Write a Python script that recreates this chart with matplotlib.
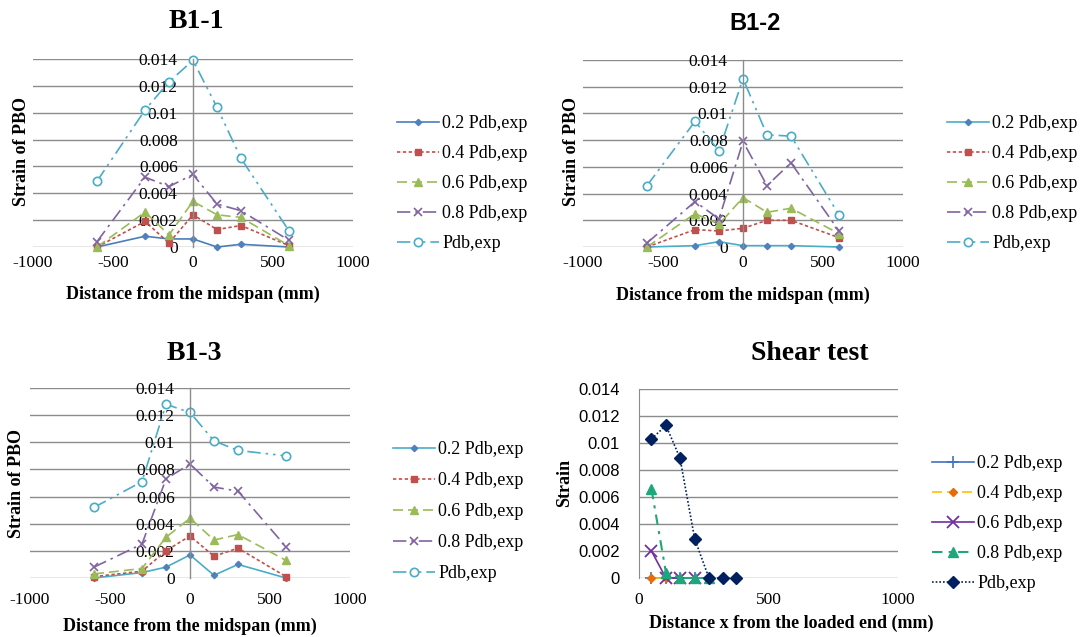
import matplotlib
matplotlib.use("Agg")
import matplotlib.pyplot as plt

# ---------------- data ----------------
x_beam = [-600, -300, -150, 0, 150, 300, 600]
series_labels = ["0.2 Pdb,exp", "0.4 Pdb,exp", "0.6 Pdb,exp", "0.8 Pdb,exp", "Pdb,exp"]

b11_02 = [0.0000, 0.0008, 0.0006, 0.0006, 0.0000, 0.0002, 0.0000]
b11_04 = [0.0000, 0.0019, 0.0003, 0.0024, 0.0013, 0.0016, 0.0001]
b11_06 = [0.0000, 0.0026, 0.0009, 0.0034, 0.0024, 0.0022, 0.0001]
b11_08 = [0.0004, 0.0052, 0.0045, 0.0054, 0.0032, 0.0027, 0.0005]
b11_10 = [0.0049, 0.0102, 0.0123, 0.0139, 0.0104, 0.0066, 0.0012]

b12_02 = [0.0000, 0.0001, 0.0004, 0.0001, 0.0001, 0.0001, 0.0000]
b12_04 = [0.0000, 0.0013, 0.0012, 0.0014, 0.0020, 0.0020, 0.0007]
b12_06 = [0.0000, 0.0025, 0.0017, 0.0037, 0.0026, 0.0029, 0.0010]
b12_08 = [0.0003, 0.0034, 0.0021, 0.0079, 0.0046, 0.0063, 0.0012]
b12_10 = [0.0046, 0.0094, 0.0072, 0.0126, 0.0084, 0.0083, 0.0024]

b13_02 = [0.0000, 0.0004, 0.0008, 0.0017, 0.0002, 0.0010, 0.0000]
b13_04 = [0.0001, 0.0005, 0.0020, 0.0031, 0.0016, 0.0022, 0.0001]
b13_06 = [0.0003, 0.0007, 0.0030, 0.0044, 0.0028, 0.0032, 0.0013]
b13_08 = [0.0008, 0.0025, 0.0073, 0.0084, 0.0067, 0.0064, 0.0023]
b13_10 = [0.0052, 0.0071, 0.0128, 0.0122, 0.0101, 0.0094, 0.0090]

x_shear = [48, 104, 158, 215, 270, 324, 376]
s_02 = [0.0, 0.0, 0.0, 0.0]
s_04 = [0.0, 0.0]
s_06 = [0.0020, 0.0, 0.0, 0.0]
s_08 = [0.0066, 0.0004, 0.0, 0.0, 0.0]
s_10 = [0.0103, 0.0113, 0.0089, 0.0029, 0.0, 0.0, 0.0]

y_ticks = [0, 0.002, 0.004, 0.006, 0.008, 0.01, 0.012, 0.014]
y_ticklabels = ["0", "0.002", "0.004", "0.006", "0.008", "0.01", "0.012", "0.014"]
xb_ticks = [-1000, -500, 0, 500, 1000]
xs_ticks = [0, 500, 1000]

# ---------------- layout ----------------
W, H = 1083, 637
fig = plt.figure(figsize=(W / 100, H / 100), dpi=100)
SERIF = "Liberation Serif"
SANS = "Liberation Sans"
GRID = "#8c8c8c"


def fx(px):
    return px / W


def fy(py):
    return 1 - py / H


def make_ax(left, right, top, bottom):
    return fig.add_axes([fx(left), fy(bottom), fx(right - left), (bottom - top) / H])


beam_styles = [
    dict(ls="-", marker="D", ms=3.2, lw=1.2),
    dict(ls=(0, (2, 1.5)), marker="s", ms=5, lw=1.2),
    dict(ls=(0, (6, 3)), marker="^", ms=5.5, lw=1.2),
    dict(ls=(0, (8, 3, 1.5, 3)), marker="x", ms=6, lw=1.2, mew=1.2),
    dict(ls=(0, (8, 3, 1.5, 3, 1.5, 3)), marker="o", ms=6, lw=1.2, mfc="white", mew=1.2),
]


def beam_panel(ax, data, line02, xpad):
    colors = [line02, "#C0504D", "#9BBB59", "#8064A2", "#4BACC6"]
    mcols = ["#4F81BD", "#C0504D", "#9BBB59", "#8064A2", "#4BACC6"]
    for s in ["top", "right", "bottom"]:
        ax.spines[s].set_visible(False)
    ax.spines["left"].set_position(("data", 0))
    ax.spines["left"].set_color(GRID)
    ax.spines["left"].set_linewidth(1)
    for y, lab, st, c, mc in zip(data, series_labels, beam_styles, colors, mcols):
        kw = dict(st)
        ax.plot(x_beam, y, color=c, mec=mc, label=lab, clip_on=False,
                **({"mfc": mc} if "mfc" not in kw else {}), **kw)
    ax.set_xlim(-1000, 1000)
    ax.set_ylim(0, 0.014)
    ax.set_yticks(y_ticks, y_ticklabels)
    ax.set_xticks(xb_ticks, [str(v) for v in xb_ticks])
    ax.tick_params(axis="y", length=0, pad=11, labelsize=12.5, labelfontfamily=SERIF)
    ax.tick_params(axis="x", length=0, pad=xpad, labelsize=12.5, labelfontfamily=SERIF)
    ax.yaxis.grid(True, color=GRID, lw=1)
    ax.set_axisbelow(True)


def legend(ax, x, top, spacing=0.72):
    ax.legend(loc="upper left", bbox_to_anchor=(fx(x), fy(top)), bbox_transform=fig.transFigure,
              frameon=False, prop={"family": SERIF, "size": 13}, handlelength=2.3,
              handletextpad=0.2, labelspacing=spacing, borderpad=0, borderaxespad=0)


# B1-1
ax1 = make_ax(33, 353, 59, 247)
beam_panel(ax1, [b11_02, b11_04, b11_06, b11_08, b11_10], "#4A7EBB", 6)
legend(ax1, 397, 115)
fig.text(fx(196), fy(21), "B1-1", ha="center", va="center", fontfamily=SERIF,
         fontweight="bold", fontsize=20)
fig.text(fx(22), fy(152), "Strain of PBO", rotation=90, ha="center", va="center",
         fontfamily=SERIF, fontweight="bold", fontsize=13)
fig.text(fx(193), fy(294), "Distance from the midspan (mm)", ha="center", va="center",
         fontfamily=SERIF, fontweight="bold", fontsize=13)

# B1-2
ax2 = make_ax(583, 903, 60, 247)
beam_panel(ax2, [b12_02, b12_04, b12_06, b12_08, b12_10], "#4BACC6", 6)
legend(ax2, 947, 115)
fig.text(fx(755), fy(24), "B1-2", ha="center", va="center", fontfamily=SANS,
         fontweight="bold", fontsize=17)
fig.text(fx(572), fy(152), "Strain of PBO", rotation=90, ha="center", va="center",
         fontfamily=SERIF, fontweight="bold", fontsize=13)
fig.text(fx(743), fy(295), "Distance from the midspan (mm)", ha="center", va="center",
         fontfamily=SERIF, fontweight="bold", fontsize=13)

# B1-3
ax3 = make_ax(30, 350, 388, 578)
beam_panel(ax3, [b13_02, b13_04, b13_06, b13_08, b13_10], "#4BACC6", 10)
legend(ax3, 393, 441, spacing=0.78)
fig.text(fx(194), fy(353), "B1-3", ha="center", va="center", fontfamily=SERIF,
         fontweight="bold", fontsize=20)
fig.text(fx(17), fy(483), "Strain of PBO", rotation=90, ha="center", va="center",
         fontfamily=SERIF, fontweight="bold", fontsize=13)
fig.text(fx(190), fy(626), "Distance from the midspan (mm)", ha="center", va="center",
         fontfamily=SERIF, fontweight="bold", fontsize=13)

# Shear test
ax4 = make_ax(639, 898, 389, 578)
for s in ["top", "right", "bottom"]:
    ax4.spines[s].set_visible(False)
ax4.spines["left"].set_color(GRID)
shear_specs = [
    (s_02, dict(color="#4472C4", ls="-", marker="+", ms=8, mew=1.2, lw=1.2)),
    (s_04, dict(color="#FFC000", ls=(0, (6, 3)), marker="D", ms=4.5, mfc="#E46C0A", mec="#E46C0A", lw=1.2)),
    (s_06, dict(color="#7030A0", ls="-", marker="x", ms=8, mew=1.3, lw=1.2)),
    (s_08, dict(color="#1FA77C", ls=(0, (5, 3, 1.5, 3)), marker="^", ms=7, lw=1.5)),
    (s_10, dict(color="#002060", ls=(0, (1, 1.2)), marker="D", ms=6, lw=1.2)),
]
for (y, kw), lab in zip(shear_specs, series_labels):
    ax4.plot(x_shear[:len(y)], y, label=lab, clip_on=False, **kw)
ax4.set_xlim(0, 1000)
ax4.set_ylim(0, 0.014)
ax4.set_yticks(y_ticks, y_ticklabels)
ax4.set_xticks(xs_ticks, [str(v) for v in xs_ticks])
ax4.tick_params(axis="y", length=0, pad=14, labelsize=12, labelfontfamily=SANS)
ax4.tick_params(axis="x", length=0, pad=10, labelsize=12.5, labelfontfamily=SERIF)
ax4.yaxis.grid(True, color=GRID, lw=1)
ax4.set_axisbelow(True)
legend(ax4, 932, 455)
fig.text(fx(810), fy(353), "Shear test", ha="center", va="center", fontfamily=SERIF,
         fontweight="bold", fontsize=20)
fig.text(fx(565), fy(483), "Strain", rotation=90, ha="center", va="center",
         fontfamily=SERIF, fontweight="bold", fontsize=13)
fig.text(fx(791), fy(623), "Distance x from the loaded end (mm)", ha="center", va="center",
         fontfamily=SERIF, fontweight="bold", fontsize=13)

fig.savefig("out.png", dpi=100)
